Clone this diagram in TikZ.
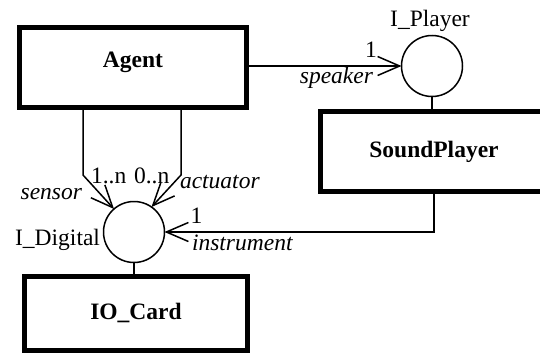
\documentclass[tikz,border=0pt]{standalone}
\usepackage{fontspec}
\setmainfont{Liberation Serif}
\usetikzlibrary{arrows.meta}
\begin{document}
\begin{tikzpicture}[x=1pt,y=-1pt,
  box/.style={draw,line width=5pt,minimum width=227pt,minimum height=80pt,inner sep=0pt,outer sep=0pt,
    font=\fontsize{23.5}{28}\selectfont\bfseries,text height=11pt,text depth=0pt},
  iface/.style={draw,circle,line width=1.5pt,minimum size=61pt,inner sep=0pt,outer sep=0pt},
  lbl/.style={inner sep=0pt,outer sep=0pt,font=\fontsize{23.5}{28}\selectfont},
  role/.style={inner sep=0pt,outer sep=0pt,font=\fontsize{23.5}{28}\selectfont\itshape},
  conn/.style={line width=1.5pt},
  arr/.style={conn,-{Straight Barb[length=22pt,width=19pt]}}]
\useasboundingbox (0,0) rectangle (540,356);
\clip (0,0) rectangle (540,356);

% classes
\node[box,text height=0pt] (agent) at (133,67.5) {Agent};
\node[box] (soundplayer) at (434,151.5) {SoundPlayer};
\node[box,minimum width=223pt,minimum height=74pt] (iocard) at (136,313.5) {IO\_Card};

% interfaces
\node[iface] (iplayer) at (432,66) {};
\node[iface] (idigital) at (134,232) {};

% interface names
\node[lbl,anchor=base] (iplayerlbl) at (430,26) {I\_Player};
\node[lbl,anchor=base east] (idigitallbl) at (100,245) {I\_Digital};

% realisation lines
\draw[conn] (iplayer.south) -- (iplayer.south |- soundplayer.north);
\draw[conn] (idigital.south) -- (idigital.south |- iocard.north);

% dependencies
\draw[arr] (agent.east |- iplayer.west) -- (iplayer.west);
\coordinate (sbend) at (83,175);
\coordinate (abend) at (181,175);
\draw[arr] (agent.south -| sbend) -- (sbend) -- (idigital.131);
\draw[arr] (agent.south -| abend) -- (abend) -- (idigital.55);
\draw[arr] (soundplayer.south) |- (idigital.east);

% role labels and multiplicities
\node[lbl,anchor=base] (mspeaker) at (371,57) {1};
\node[role,anchor=base east] (rspeaker) at (373,83) {speaker};
\node[lbl,anchor=base west] (msensor) at (91,183) {1..n};
\node[lbl,anchor=base west] (mactuator) at (134,183) {0..n};
\node[role,anchor=base west] (ractuator) at (180,188) {actuator};
\node[role,anchor=base east] (rsensor) at (82,199) {sensor};
\node[lbl,anchor=base] (minstrument) at (196.5,223) {1};
\node[role,anchor=base west] (rinstrument) at (192,250) {instrument};
\end{tikzpicture}
\end{document}
